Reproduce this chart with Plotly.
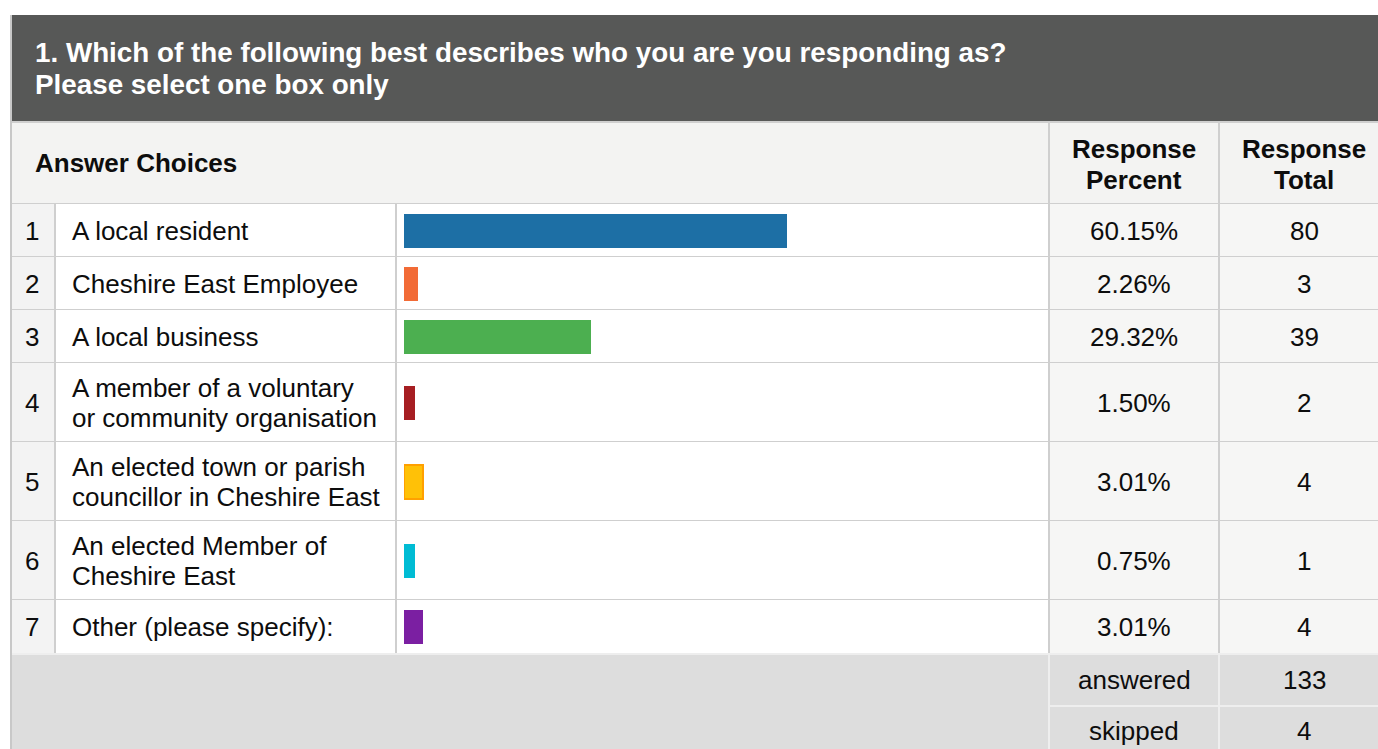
import numpy as np
import plotly.graph_objects as go

# ---- data ----
title_lines = ["1. Which of the following best describes who you are you responding as?",
               "Please select one box only"]
numbers = ["1", "2", "3", "4", "5", "6", "7"]
choices = ["A local resident",
           "Cheshire East Employee",
           "A local business",
           "A member of a voluntary<br>or community organisation",
           "An elected town or parish<br>councillor in Cheshire East",
           "An elected Member of<br>Cheshire East",
           "Other (please specify):"]
percents = [60.15, 2.26, 29.32, 1.50, 3.01, 0.75, 3.01]
totals = [80, 3, 39, 2, 4, 1, 4]
answered = 133
skipped = 4
bar_colors = ["#1d6fa5", "#f26b36", "#4caf50", "#a61e22", "#ffc107", "#00bcd4", "#7b1fa2"]
bar_line_colors = ["#1d6fa5", "#f26b36", "#4caf50", "#a61e22", "#ffa000", "#00bcd4", "#7b1fa2"]
bar_line_widths = [0, 0, 0, 0, 2, 0, 0]

# ---- layout geometry (window pixels) ----
WIN_W, WIN_H = 1378, 749
OFF = 0                      # body margin removed by post_script
W, H = WIN_W, WIN_H
FONT = "Liberation Sans, Arial, sans-serif"
row_edges = [204, 257, 310, 363, 442, 521, 600, 654]
foot_edges = [654, 706, 760]
cx = [11, 55, 396, 1049, 1219, 1400]
grid = "#cfcfcf"
MIN_BAR_PCT = 1.75  # minimum visible bar length (style)
BODY = 26
HEAD = 26
TITLE = 27.8
RIGHT = WIN_W + 30
PCT_X = 1134
TOT_X = 1304

shapes = []
annots = []

def X(v):
    return v - OFF

def Y(v):
    return v - OFF

def rect(x0, y0, x1, y1, fill):
    shapes.append(dict(type="rect", xref="x", yref="y", x0=X(x0), y0=Y(y0), x1=X(x1), y1=Y(y1),
                       fillcolor=fill, line=dict(width=0), layer="below"))

def line(x0, y0, x1, y1, color=grid, w=2):
    shapes.append(dict(type="line", xref="x", yref="y", x0=X(x0), y0=Y(y0), x1=X(x1), y1=Y(y1),
                       line=dict(color=color, width=w), layer="below"))

def text(x, y, s, size=BODY, bold=False, color="#0d0d0d", xanchor="left", spacing=30):
    parts = s.split("<br>")
    n = len(parts)
    for k, p in enumerate(parts):
        yy = y + (k - (n - 1) / 2) * spacing
        t = "<b>" + p + "</b>" if bold else p
        annots.append(dict(xref="x", yref="y", x=X(x), y=Y(yy), text=t, showarrow=False,
                           xanchor=xanchor, yanchor="middle", align="left",
                           font=dict(family=FONT, size=size, color=color)))

# title bar
rect(cx[0], 15, RIGHT, 121, "#575857")
text(33, 52, title_lines[0], size=TITLE, bold=True, color="white")
text(33, 84, title_lines[1], size=TITLE, bold=True, color="white")

# header row
rect(cx[0], 121, RIGHT, 204, "#f3f3f2")
line(cx[0], 122, RIGHT, 122)
line(cx[0], 204, RIGHT, 204)
line(cx[3], 121, cx[3], 204)
line(cx[4], 121, cx[4], 204)
text(33, 163, "Answer Choices", size=HEAD, bold=True)
text(PCT_X, 164, "Response<br>Percent", size=HEAD, bold=True, xanchor="center", spacing=31)
text(TOT_X, 164, "Response<br>Total", size=HEAD, bold=True, xanchor="center", spacing=31)

# data rows
row_centers = []
for i in range(len(choices)):
    y0, y1 = row_edges[i], row_edges[i + 1]
    yc = (y0 + y1) / 2
    row_centers.append(Y(yc))
    rect(cx[0], y0, cx[1], y1, "#f3f3f3")
    rect(cx[1], y0, cx[3], y1, "#ffffff")
    rect(cx[3], y0, RIGHT, y1, "#f6f6f5")
    line(cx[0], y1, RIGHT, y1)
    text(32, yc, numbers[i], xanchor="center")
    text(70, yc, choices[i])
    text(PCT_X, yc, f"{percents[i]:.2f}%", xanchor="center")
    text(TOT_X, yc, str(totals[i]), xanchor="center")

for xv in cx[1:5]:
    line(xv, row_edges[0], xv, row_edges[-1])

# footer
rect(cx[0], foot_edges[0], RIGHT, WIN_H + 20, "#dddddd")
line(cx[0], foot_edges[0], RIGHT, foot_edges[0], color="#eeeeee", w=2)
line(cx[3], foot_edges[1], RIGHT, foot_edges[1], color="#eeeeee", w=2)
line(cx[3], foot_edges[0], cx[3], WIN_H + 20, color="#eeeeee", w=2)
line(cx[4], foot_edges[0], cx[4], WIN_H + 20, color="#eeeeee", w=2)
text(PCT_X, 680, "answered", xanchor="center")
text(TOT_X, 680, str(answered), xanchor="center")
text(PCT_X, 731, "skipped", xanchor="center")
text(TOT_X, 731, str(skipped), xanchor="center")

# outer left border
line(cx[0], 15, cx[0], WIN_H + 20, color="#c8c8c8", w=2)

# bars
disp = np.maximum(np.array(percents), MIN_BAR_PCT)
fig = go.Figure()
fig.add_trace(go.Bar(
    x=disp, y=row_centers, orientation="h", width=34,
    xaxis="x2", yaxis="y",
    marker=dict(color=bar_colors, line=dict(color=bar_line_colors, width=bar_line_widths)),
    hovertext=[f"{p:.2f}%" for p in percents], hoverinfo="text",
    showlegend=False,
))

fig.update_layout(
    width=W, height=H,
    margin=dict(l=0, r=0, t=0, b=0),
    paper_bgcolor="white", plot_bgcolor="rgba(0,0,0,0)",
    xaxis=dict(range=[0, W], domain=[0, 1], visible=False, fixedrange=True),
    yaxis=dict(range=[H, 0], domain=[0, 1], visible=False, fixedrange=True),
    xaxis2=dict(range=[0, 100], domain=[X(404) / W, X(1041) / W], anchor="y",
                visible=False, fixedrange=True),
    shapes=shapes,
    annotations=annots,
    bargap=0,
)

fig.write_html(
    "out.html",
    config={"displayModeBar": False},
    post_script=("document.documentElement.style.overflow='hidden';"
                 "document.body.style.overflow='hidden';"
                 "document.body.style.margin='0';"),
)
